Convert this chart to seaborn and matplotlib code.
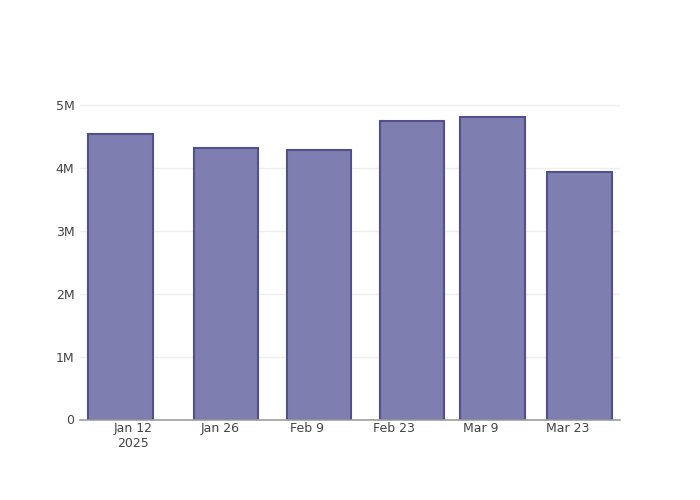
import numpy as np
import pandas as pd
import matplotlib
matplotlib.use("Agg")
import matplotlib.pyplot as plt
import matplotlib.dates as mdates
import seaborn as sns

# data
dates = ["2025-01-10", "2025-01-27", "2025-02-11", "2025-02-26", "2025-03-11", "2025-03-25"]
values = [4.54e6, 4.31e6, 4.28e6, 4.74e6, 4.81e6, 3.94e6]
tick_dates = ["2025-01-12", "2025-01-26", "2025-02-09", "2025-02-23", "2025-03-09", "2025-03-23"]
tick_labels = ["Jan 12\n2025", "Jan 26", "Feb 9", "Feb 23", "Mar 9", "Mar 23"]
y_ticks = [0, 1e6, 2e6, 3e6, 4e6, 5e6]
y_labels = ["0", "1M", "2M", "3M", "4M", "5M"]

sns.set_style("white")
plt.rcParams["font.family"] = ["DejaVu Sans"]

df = pd.DataFrame({"x": mdates.date2num(pd.to_datetime(dates)), "y": values})

fig = plt.figure(figsize=(7, 5), dpi=100)
ax = fig.add_axes([80 / 700, 80.5 / 500, 540 / 700, 319.5 / 500])

sns.barplot(data=df, x="x", y="y", native_scale=True, width=0.8,
            color="#7e7eb0", saturation=1, edgecolor="#50508f",
            linewidth=1.5, ax=ax, zorder=3)

ax.set_xlim(mdates.date2num(pd.Timestamp("2025-01-03 12:00")),
            mdates.date2num(pd.Timestamp("2025-03-31 12:00")))
ax.set_ylim(0, 5.08e6)

ax.set_xticks(mdates.date2num(pd.to_datetime(tick_dates)))
ax.set_xticklabels(tick_labels)
ax.set_yticks(y_ticks)
ax.set_yticklabels(y_labels)

ax.grid(axis="y", color="#eeeeee", linewidth=1, zorder=0)
ax.set_axisbelow(True)
for s in ["top", "right", "left"]:
    ax.spines[s].set_visible(False)
ax.spines["bottom"].set_color("#9e9e9e")
ax.spines["bottom"].set_linewidth(1.2)
ax.spines["bottom"].set_zorder(4)

ax.tick_params(axis="both", length=0, labelsize=9, labelcolor="#444444")
ax.tick_params(axis="x", pad=2)
ax.tick_params(axis="y", pad=4)
ax.set_xlabel("")
ax.set_ylabel("")

fig.savefig("out.png", dpi=100)
